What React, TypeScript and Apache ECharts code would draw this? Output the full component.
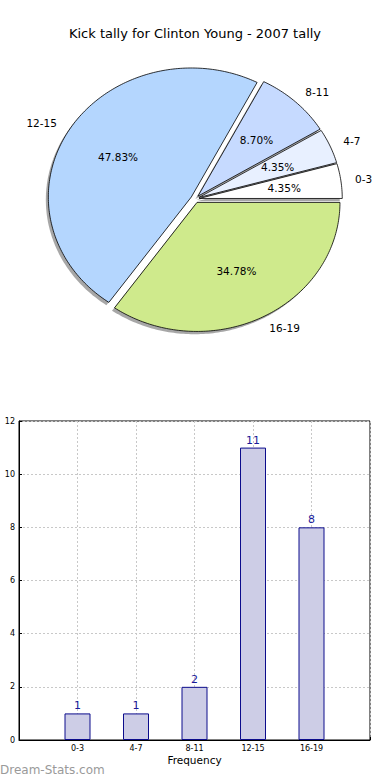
import React, { useEffect, useRef } from "react";
import * as echarts from "echarts";

const title = "Kick tally for Clinton Young - 2007 tally";
const pieLabels = ["0-3", "4-7", "8-11", "12-15", "16-19"];
const pieValues = [1, 1, 2, 11, 8];
const pieColors = ["#ffffff", "#e8f0ff", "#c6daff", "#b4d6fe", "#cfea8c"];

const barCategories = ["0-3", "4-7", "8-11", "12-15", "16-19"];
const barValues = [1, 1, 2, 11, 8];
const xAxisName = "Frequency";
const watermark = "Dream-Stats.com";

const FONT = "DejaVu Sans";

export default function App() {
  const ref = useRef<HTMLDivElement>(null);
  useEffect(() => {
    if (!ref.current) return;
    const chart = echarts.init(ref.current, undefined, { renderer: "svg" });

    const total = pieValues.reduce((a, b) => a + b, 0);
    const starts: number[] = [];
    const ends: number[] = [];
    let acc = 0;
    pieValues.forEach((v) => {
      starts.push((acc / total) * 360);
      acc += v;
      ends.push((acc / total) * 360);
    });

    const CX = 195;
    const CY = 199;
    const RX = 143;
    const RY = 129;
    const EXPLODE = 0.03;
    const SHX = -2.5;
    const SHY = 2.8;

    const renderSlice = (params: any, api: any) => {
      const i = params.dataIndex;
      const a0 = starts[i];
      const a1 = ends[i];
      const mid = (((a0 + a1) / 2) * Math.PI) / 180;
      const ox = CX + EXPLODE * RX * Math.cos(mid);
      const oy = CY - EXPLODE * RY * Math.sin(mid);
      const pts: number[][] = [[ox, oy]];
      const n = Math.max(4, Math.ceil(a1 - a0));
      for (let k = 0; k <= n; k++) {
        const a = ((a0 + ((a1 - a0) * k) / n) * Math.PI) / 180;
        pts.push([ox + RX * Math.cos(a), oy - RY * Math.sin(a)]);
      }
      const shadow = pts.map((p) => [p[0] + SHX, p[1] + SHY]);
      const pct = ((api.value(0) / total) * 100).toFixed(2) + "%";
      const lx = ox + 1.1 * RX * Math.cos(mid);
      const ly = oy - 1.1 * RY * Math.sin(mid);
      return {
        type: "group",
        children: [
          {
            type: "polygon",
            shape: { points: shadow },
            style: { fill: "rgba(60,60,60,0.45)" },
            z2: 0,
          },
          {
            type: "polygon",
            shape: { points: pts },
            style: { fill: pieColors[i], stroke: "#000", lineWidth: 0.8 },
            z2: 10,
          },
          {
            type: "text",
            x: ox + 0.6 * RX * Math.cos(mid),
            y: oy - 0.6 * RY * Math.sin(mid),
            style: {
              text: pct,
              align: "center",
              verticalAlign: "middle",
              fontSize: 10.5,
              fontFamily: FONT,
              fill: "#000",
            },
            z2: 20,
          },
          {
            type: "text",
            x: lx,
            y: ly,
            style: {
              text: pieLabels[i],
              align: Math.cos(mid) >= 0 ? "left" : "right",
              verticalAlign: "middle",
              fontSize: 10.5,
              fontFamily: FONT,
              fill: "#000",
            },
            z2: 20,
          },
        ],
      };
    };

    chart.setOption({
      animation: false,
      backgroundColor: "#fff",
      title: {
        text: title,
        left: "center",
        top: 22,
        textStyle: { fontSize: 13, fontWeight: "normal", fontFamily: FONT, color: "#000" },
      },
      graphic: [
        {
          type: "text",
          left: 0,
          top: 764,
          style: { text: watermark, fill: "#9a9a9a", fontSize: 12, fontFamily: FONT },
        },
      ],
      grid: {
        left: 19,
        right: 20,
        top: 421,
        bottom: 40,
        show: true,
        borderColor: "#000",
        borderWidth: 1,
        backgroundColor: "transparent",
      },
      xAxis: {
        type: "value",
        min: 0,
        max: 6,
        interval: 1,
        name: xAxisName,
        nameLocation: "middle",
        nameGap: 14,
        nameTextStyle: { fontSize: 10.5, fontFamily: FONT, color: "#000" },
        axisLine: { show: true, lineStyle: { color: "#000" } },
        axisTick: { show: true, inside: true, length: 3, lineStyle: { color: "#000" } },
        axisLabel: {
          fontSize: 8,
          fontFamily: FONT,
          color: "#000",
          margin: 4,
          formatter: (v: number) => (v >= 1 && v <= barCategories.length ? barCategories[v - 1] : ""),
        },
        splitLine: { show: true, lineStyle: { color: "#c8c8c8", type: [2, 2], width: 1 } },
      },
      yAxis: {
        type: "value",
        min: 0,
        max: 12,
        interval: 2,
        axisLine: { show: true, lineStyle: { color: "#000" } },
        axisTick: { show: true, inside: true, length: 3, lineStyle: { color: "#000" } },
        axisLabel: { fontSize: 8, fontFamily: FONT, color: "#000", margin: 4 },
        splitLine: { show: true, lineStyle: { color: "#c8c8c8", type: [2, 2], width: 1 } },
      },
      series: [
        {
          type: "custom",
          coordinateSystem: "none",
          data: pieValues.map((v) => [v]),
          renderItem: renderSlice,
          silent: true,
        },
        {
          type: "bar",
          data: barValues.map((v, i) => [i + 1, v]),
          barWidth: 26,
          itemStyle: { color: "#cdcde6", borderColor: "#0c0c8c", borderWidth: 1 },
          label: {
            show: true,
            position: "top",
            distance: 2,
            color: "#1a1a9a",
            fontSize: 11,
            fontFamily: FONT,
          },
        },
      ],
    });
    return () => chart.dispose();
  }, []);
  return (
    <div
      ref={ref}
      style={{ position: "fixed", left: 0, top: 0, width: 390, height: 780 }}
    />
  );
}
